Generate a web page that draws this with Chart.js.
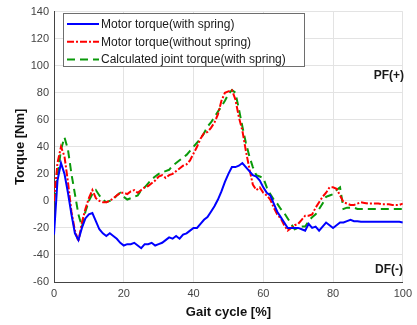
<!DOCTYPE html>
<html>
<head>
<meta charset="utf-8">
<script src="https://cdn.jsdelivr.net/npm/chart.js@4"></script>
<style>
  html, body { margin: 0; padding: 0; background: #fff; }
  #wrap { width: 417px; height: 325px; }
</style>
</head>
<body>
<div id="wrap"><canvas id="torqueChart" width="417" height="325"></canvas></div>
<script>
// Gait cycle positions (%), one sample per percent
const gaitPct = Array.from({ length: 101 }, (_, i) => i);

// Motor torque (with spring) [Nm]
const motorWithSpring = [
    -25, 15, 28, 20, 6, -10, -24, -29, -20, -13,
    -10, -9, -15, -21, -24, -26, -24, -26, -28, -31,
    -33, -32, -32, -31, -33, -35, -32, -32, -31, -33,
    -32, -31, -29, -27, -28, -26, -28, -25, -24, -22,
    -20, -20, -17, -14, -12, -8, -4, 1, 7, 14,
    20, 25, 25, 26, 28, 25, 22, 19, 18, 15,
    10, 6, 4, -2, -8, -12, -16, -20, -20, -20,
    -20, -21, -22, -17, -20, -19, -22, -19, -16, -18,
    -20, -18, -16, -16, -15, -14, -15, -15, -15.5, -15.5,
    -15.5, -15.5, -15.5, -15.5, -15.5, -15.5, -15.5, -15.5, -15.5, -15.5,
    -16
];

// Motor torque (without spring) [Nm]
const motorWithoutSpring = [
    0, 28, 40, 33, 14, -8, -22, -30, -16, -6,
    2, 8, 2, 0, -1, -1, 0, 2, 4, 6,
    6, 5, 7, 8, 6, 8, 10, 11, 13, 15,
    18, 19, 17, 19, 20, 22, 24, 26, 27, 30,
    35, 40, 46, 50, 51, 54, 58, 64, 74, 80,
    81, 82, 75, 62, 52, 37, 24, 12, 8, 10,
    6, 4, 1, -5, -10, -13, -18, -22, -20, -18,
    -17, -14, -11, -11, -10, -5, -1, 3, 6, 10,
    10, 9, 4, -1, -2, -3, -3, -2, -1, -1.5,
    -2, -2, -2, -2, -2.5, -2.5, -2.5, -3, -3, -3,
    -2
];

// Calculated joint torque (with spring) [Nm]
const jointWithSpring = [
    0, 18, 38, 47, 38, 20, 5, -10, -19, -8,
    0, 5, 8, 4, 1, -1, 0, 1, 4, 6,
    3, 1, 2, 3, 4, 8, 10, 13, 16, 18,
    20, 21, 22, 23, 26, 28, 30, 32, 34, 37,
    40, 43, 46, 50, 55, 58, 62, 66, 70, 74,
    79, 82, 80, 68, 55, 43, 33, 25, 19, 18,
    17, 10, 5, 1, -2, -6, -9, -13, -17, -21,
    -20, -19, -19, -15, -12, -10, -6, -2, 3, 4,
    5, 8, 10, -6, -5, -5, -5, -6, -6, -6,
    -6, -6, -6, -6, -6, -6, -6, -6, -6, -6,
    -6
];

const seriesLabels = [
    'Motor torque(with spring)',
    'Motor torque(without spring)',
    'Calculated joint torque(with spring)'
];
const xTicks = [0, 20, 40, 60, 80, 100];
const yTicks = [-60, -40, -20, 0, 20, 40, 60, 80, 100, 120, 140];

const FONT = '"Liberation Sans", Arial, Helvetica, sans-serif';

const toPoints = vals => vals.map((v, i) => ({ x: gaitPct[i], y: v }));

// Boxed legend inside the axes + PF/DF annotations
const overlayPlugin = {
    id: 'overlay',
    afterDraw(chart) {
        const ctx = chart.ctx;
        ctx.save();
        // legend box
        const bx = 63.5, by = 13.5, bw = 241, bh = 53;
        ctx.fillStyle = '#fff';
        ctx.fillRect(bx, by, bw, bh);
        ctx.strokeStyle = '#6e6e6e';
        ctx.lineWidth = 1;
        ctx.strokeRect(bx, by, bw, bh);
        ctx.font = '12px ' + FONT;
        ctx.textBaseline = 'middle';
        chart.data.datasets.forEach((ds, i) => {
            const yy = 24 + i * 17.7;
            ctx.beginPath();
            ctx.setLineDash(ds.borderDash || []);
            ctx.strokeStyle = ds.borderColor;
            ctx.lineWidth = ds.borderWidth;
            ctx.moveTo(67, yy);
            ctx.lineTo(99, yy);
            ctx.stroke();
            ctx.setLineDash([]);
            ctx.fillStyle = '#1a1a1a';
            ctx.fillText(ds.label, 101, yy + 0.5);
        });
        // PF / DF labels
        ctx.font = 'bold 12px ' + FONT;
        ctx.fillStyle = '#1a1a1a';
        ctx.textAlign = 'right';
        ctx.fillText('PF(+)', 404, 76);
        ctx.fillText('DF(-)', 403, 270);
        ctx.restore();
    }
};

new Chart(document.getElementById('torqueChart'), {
    type: 'line',
    data: {
        datasets: [
            {
                label: seriesLabels[0],
                data: toPoints(motorWithSpring),
                borderColor: '#0000ff',
                borderWidth: 2,
                pointRadius: 0,
                tension: 0
            },
            {
                label: seriesLabels[1],
                data: toPoints(motorWithoutSpring),
                borderColor: '#ff0000',
                borderWidth: 2,
                borderDash: [7, 2, 2, 2],
                pointRadius: 0,
                tension: 0
            },
            {
                label: seriesLabels[2],
                data: toPoints(jointWithSpring),
                borderColor: '#0a9a0a',
                borderWidth: 2,
                borderDash: [8, 5],
                pointRadius: 0,
                tension: 0
            }
        ]
    },
    options: {
        responsive: false,
        animation: false,
        layout: { padding: { top: 5, right: 11, left: 0, bottom: 0 } },
        plugins: {
            legend: { display: false },
            tooltip: { enabled: false }
        },
        scales: {
            x: {
                type: 'linear',
                min: 0,
                max: 100,
                afterBuildTicks: s => { s.ticks = xTicks.map(v => ({ value: v })); },
                afterFit: s => { s.height = 43; },
                grid: { color: '#e3e3e3', drawTicks: false },
                border: { color: '#444', width: 1 },
                ticks: { color: '#444', font: { family: FONT, size: 11 }, padding: 5, maxRotation: 0 },
                title: { display: true, text: 'Gait cycle [%]', color: '#111', font: { family: FONT, size: 13, weight: 'bold' }, padding: { top: 2, bottom: 5 } }
            },
            y: {
                min: -60,
                max: 140,
                afterBuildTicks: s => { s.ticks = yTicks.map(v => ({ value: v })); },
                afterFit: s => { s.width = 54; },
                grid: { color: '#e3e3e3', drawTicks: false },
                border: { color: '#444', width: 1 },
                ticks: { color: '#444', font: { family: FONT, size: 11 }, padding: 5 },
                title: { display: true, text: 'Torque [Nm]', color: '#111', font: { family: FONT, size: 13, weight: 'bold' }, padding: { top: 13, bottom: 0 } }
            }
        }
    },
    plugins: [overlayPlugin]
});
</script>
</body>
</html>
